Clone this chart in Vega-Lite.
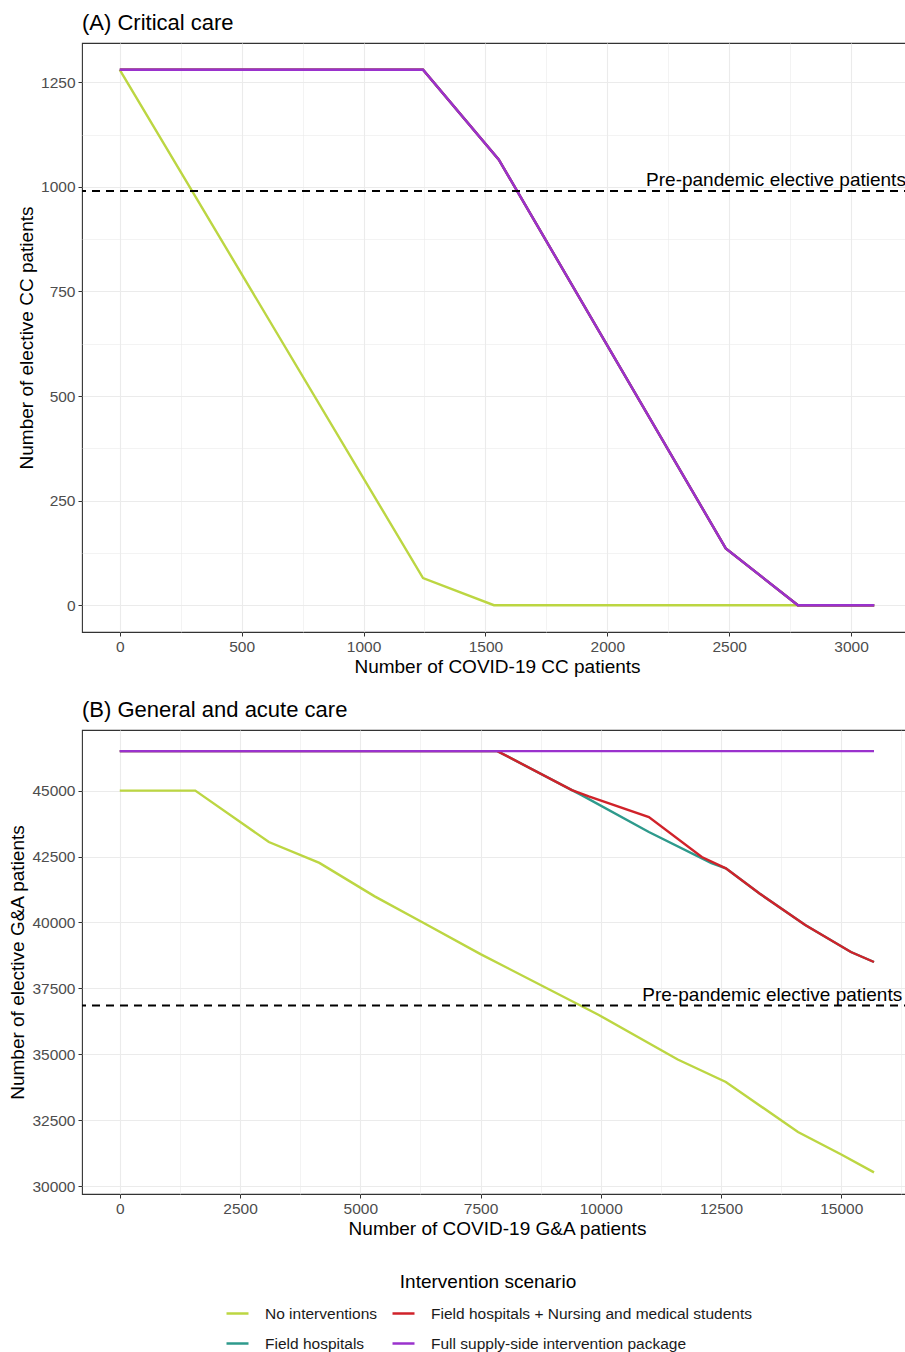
{
  "$schema": "https://vega.github.io/schema/vega-lite/v6.json",
  "background": "white",
  "padding": {"left": 8, "top": 11, "right": 0, "bottom": 4},
  "config": {
    "font": "Liberation Sans",
    "view": {"stroke": "#333333", "strokeWidth": 1.1},
    "axis": {
      "domain": false,
      "gridColor": "#EBEBEB",
      "tickColor": "#333333",
      "tickSize": 4,
      "tickWidth": 1,
      "labelFontSize": 15.5,
      "labelColor": "#4D4D4D",
      "labelFont": "Liberation Sans",
      "labelPadding": 3,
      "labelOverlap": false,
      "titleFontSize": 19,
      "titleFontWeight": "normal",
      "titleColor": "#000000",
      "titleFont": "Liberation Sans",
      "format": "d"
    },
    "title": {"fontSize": 22, "fontWeight": "normal", "anchor": "start", "frame": "group", "color": "#000000", "font": "Liberation Sans", "offset": 8}
  },
  "datasets": {
    "cc": [
      {"scenario": "No interventions", "covid": 0, "elective": 1280},
      {"scenario": "No interventions", "covid": 1244, "elective": 65},
      {"scenario": "No interventions", "covid": 1535, "elective": 0},
      {"scenario": "No interventions", "covid": 3095, "elective": 0},
      {"scenario": "Field hospitals", "covid": 0, "elective": 1280},
      {"scenario": "Field hospitals", "covid": 1244, "elective": 1280},
      {"scenario": "Field hospitals", "covid": 1555, "elective": 1065},
      {"scenario": "Field hospitals", "covid": 2486, "elective": 136},
      {"scenario": "Field hospitals", "covid": 2782, "elective": 0},
      {"scenario": "Field hospitals", "covid": 3095, "elective": 0},
      {"scenario": "Field hospitals + Nursing and medical students", "covid": 0, "elective": 1280},
      {"scenario": "Field hospitals + Nursing and medical students", "covid": 1244, "elective": 1280},
      {"scenario": "Field hospitals + Nursing and medical students", "covid": 1555, "elective": 1065},
      {"scenario": "Field hospitals + Nursing and medical students", "covid": 2486, "elective": 136},
      {"scenario": "Field hospitals + Nursing and medical students", "covid": 2782, "elective": 0},
      {"scenario": "Field hospitals + Nursing and medical students", "covid": 3095, "elective": 0},
      {"scenario": "Full supply-side intervention package", "covid": 0, "elective": 1280},
      {"scenario": "Full supply-side intervention package", "covid": 1244, "elective": 1280},
      {"scenario": "Full supply-side intervention package", "covid": 1555, "elective": 1065},
      {"scenario": "Full supply-side intervention package", "covid": 2486, "elective": 136},
      {"scenario": "Full supply-side intervention package", "covid": 2782, "elective": 0},
      {"scenario": "Full supply-side intervention package", "covid": 3095, "elective": 0}
    ],
    "ga": [
      {"scenario": "No interventions", "covid": 0, "elective": 45000},
      {"scenario": "No interventions", "covid": 1570, "elective": 45000},
      {"scenario": "No interventions", "covid": 3100, "elective": 43050},
      {"scenario": "No interventions", "covid": 4150, "elective": 42260},
      {"scenario": "No interventions", "covid": 5300, "elective": 40990},
      {"scenario": "No interventions", "covid": 6300, "elective": 40000},
      {"scenario": "No interventions", "covid": 7500, "elective": 38800},
      {"scenario": "No interventions", "covid": 9950, "elective": 36500},
      {"scenario": "No interventions", "covid": 11600, "elective": 34800},
      {"scenario": "No interventions", "covid": 12600, "elective": 33950},
      {"scenario": "No interventions", "covid": 14100, "elective": 32050},
      {"scenario": "No interventions", "covid": 15000, "elective": 31200},
      {"scenario": "No interventions", "covid": 15680, "elective": 30520},
      {"scenario": "Field hospitals", "covid": 0, "elective": 46500},
      {"scenario": "Field hospitals", "covid": 7850, "elective": 46500},
      {"scenario": "Field hospitals", "covid": 9400, "elective": 45020},
      {"scenario": "Field hospitals", "covid": 9600, "elective": 44830},
      {"scenario": "Field hospitals", "covid": 11000, "elective": 43430},
      {"scenario": "Field hospitals", "covid": 12300, "elective": 42250},
      {"scenario": "Field hospitals", "covid": 12600, "elective": 42050},
      {"scenario": "Field hospitals", "covid": 13300, "elective": 41100},
      {"scenario": "Field hospitals", "covid": 14250, "elective": 39900},
      {"scenario": "Field hospitals", "covid": 15200, "elective": 38880},
      {"scenario": "Field hospitals", "covid": 15680, "elective": 38500},
      {"scenario": "Field hospitals + Nursing and medical students", "covid": 0, "elective": 46500},
      {"scenario": "Field hospitals + Nursing and medical students", "covid": 7850, "elective": 46500},
      {"scenario": "Field hospitals + Nursing and medical students", "covid": 9400, "elective": 45020},
      {"scenario": "Field hospitals + Nursing and medical students", "covid": 9750, "elective": 44780},
      {"scenario": "Field hospitals + Nursing and medical students", "covid": 11000, "elective": 44000},
      {"scenario": "Field hospitals + Nursing and medical students", "covid": 12100, "elective": 42480},
      {"scenario": "Field hospitals + Nursing and medical students", "covid": 12600, "elective": 42050},
      {"scenario": "Field hospitals + Nursing and medical students", "covid": 13300, "elective": 41100},
      {"scenario": "Field hospitals + Nursing and medical students", "covid": 14250, "elective": 39900},
      {"scenario": "Field hospitals + Nursing and medical students", "covid": 15200, "elective": 38880},
      {"scenario": "Field hospitals + Nursing and medical students", "covid": 15680, "elective": 38500},
      {"scenario": "Full supply-side intervention package", "covid": 0, "elective": 46500},
      {"scenario": "Full supply-side intervention package", "covid": 15680, "elective": 46500}
    ]
  },
  "spacing": 20,
  "resolve": {"scale": {"x": "independent", "y": "independent", "color": "independent"}, "legend": {"color": "independent"}},
  "vconcat": [
    {
      "title": {"text": "(A) Critical care"},
      "width": 830,
      "height": 589,
      "layer": [
        {
          "data": {"name": "cc"},
          "mark": {"type": "line", "strokeWidth": 2.4},
          "encoding": {
            "x": {
              "field": "covid", "type": "quantitative",
              "scale": {"domain": [-155, 3250], "nice": false, "zero": false},
              "axis": {
                "title": "Number of COVID-19 CC patients",
                "titlePadding": 3,
                "values": [0, 250, 500, 750, 1000, 1250, 1500, 1750, 2000, 2250, 2500, 2750, 3000, 3250],
                "labelExpr": "datum.value % 500 === 0 ? datum.label : ''",
                "tickOpacity": {"condition": {"test": "datum.value % 500 !== 0", "value": 0}, "value": 1},
                "gridWidth": {"condition": {"test": "datum.value % 500 !== 0", "value": 0.6}, "value": 1.1}
              }
            },
            "y": {
              "field": "elective", "type": "quantitative",
              "scale": {"domain": [-64, 1344], "nice": false, "zero": false},
              "axis": {
                "title": "Number of elective CC patients",
                "titlePadding": 4,
                "values": [0, 125, 250, 375, 500, 625, 750, 875, 1000, 1125, 1250],
                "labelExpr": "datum.value % 250 === 0 ? datum.label : ''",
                "tickOpacity": {"condition": {"test": "datum.value % 250 !== 0", "value": 0}, "value": 1},
                "gridWidth": {"condition": {"test": "datum.value % 250 !== 0", "value": 0.6}, "value": 1.1}
              }
            },
            "color": {
              "field": "scenario", "type": "nominal",
              "scale": {
                "domain": ["No interventions", "Field hospitals", "Field hospitals + Nursing and medical students", "Full supply-side intervention package"],
                "range": ["#BCD642", "#2E9A8C", "#D0222A", "#9A32CD"]
              },
              "legend": null
            }
          }
        },
        {
          "data": {"values": [{}]},
          "mark": {"type": "rule", "strokeDash": [8, 6], "strokeWidth": 2, "color": "#000000"},
          "encoding": {"y": {"datum": 990}}
        },
        {
          "data": {"values": [{}]},
          "mark": {"type": "text", "align": "right", "baseline": "bottom", "fontSize": 19, "dy": -1, "color": "#000000", "font": "Liberation Sans"},
          "encoding": {"x": {"datum": 3225}, "y": {"datum": 990}, "text": {"value": "Pre-pandemic elective patients"}}
        }
      ]
    },
    {
      "title": {"text": "(B) General and acute care"},
      "width": 830,
      "height": 464,
      "layer": [
        {
          "data": {"name": "ga"},
          "mark": {"type": "line", "strokeWidth": 2.4},
          "encoding": {
            "x": {
              "field": "covid", "type": "quantitative",
              "scale": {"domain": [-785, 16470], "nice": false, "zero": false},
              "axis": {
                "title": "Number of COVID-19 G&A patients",
                "titlePadding": 3,
                "values": [0, 1250, 2500, 3750, 5000, 6250, 7500, 8750, 10000, 11250, 12500, 13750, 15000, 16250],
                "labelExpr": "datum.value % 2500 === 0 ? datum.label : ''",
                "tickOpacity": {"condition": {"test": "datum.value % 2500 !== 0", "value": 0}, "value": 1},
                "gridWidth": {"condition": {"test": "datum.value % 2500 !== 0", "value": 0.6}, "value": 1.1}
              }
            },
            "y": {
              "field": "elective", "type": "quantitative",
              "scale": {"domain": [29700, 47300], "nice": false, "zero": false},
              "axis": {
                "title": "Number of elective G&A patients",
                "titlePadding": 4,
                "values": [30000, 31250, 32500, 33750, 35000, 36250, 37500, 38750, 40000, 41250, 42500, 43750, 45000, 46250],
                "labelExpr": "datum.value % 2500 === 0 ? datum.label : ''",
                "tickOpacity": {"condition": {"test": "datum.value % 2500 !== 0", "value": 0}, "value": 1},
                "gridWidth": {"condition": {"test": "datum.value % 2500 !== 0", "value": 0.6}, "value": 1.1}
              }
            },
            "color": {
              "field": "scenario", "type": "nominal",
              "scale": {
                "domain": ["No interventions", "Field hospitals", "Field hospitals + Nursing and medical students", "Full supply-side intervention package"],
                "range": ["#BCD642", "#2E9A8C", "#D0222A", "#9A32CD"]
              },
              "legend": {
                "title": "Intervention scenario",
                "orient": "none",
                "legendX": 143,
                "legendY": 543,
                "columns": 2,
                "symbolType": "stroke",
                "symbolSize": 484,
                "symbolStrokeWidth": 2.5,
                "labelFontSize": 15.5,
                "labelColor": "#1A1A1A",
                "labelFont": "Liberation Sans",
                "labelOffset": 15,
                "labelLimit": 600,
                "titleFontSize": 19,
                "titleFontWeight": "normal",
                "titleColor": "#000000",
                "titleFont": "Liberation Sans",
                "titleAnchor": "middle",
                "titlePadding": 9,
                "rowPadding": 9,
                "columnPadding": 9
              }
            }
          }
        },
        {
          "data": {"values": [{}]},
          "mark": {"type": "rule", "strokeDash": [8, 6], "strokeWidth": 2, "color": "#000000"},
          "encoding": {"y": {"datum": 36850}}
        },
        {
          "data": {"values": [{}]},
          "mark": {"type": "text", "align": "right", "baseline": "bottom", "fontSize": 19, "dy": -1, "color": "#000000", "font": "Liberation Sans"},
          "encoding": {"x": {"datum": 16266}, "y": {"datum": 36850}, "text": {"value": "Pre-pandemic elective patients"}}
        }
      ]
    }
  ]
}
